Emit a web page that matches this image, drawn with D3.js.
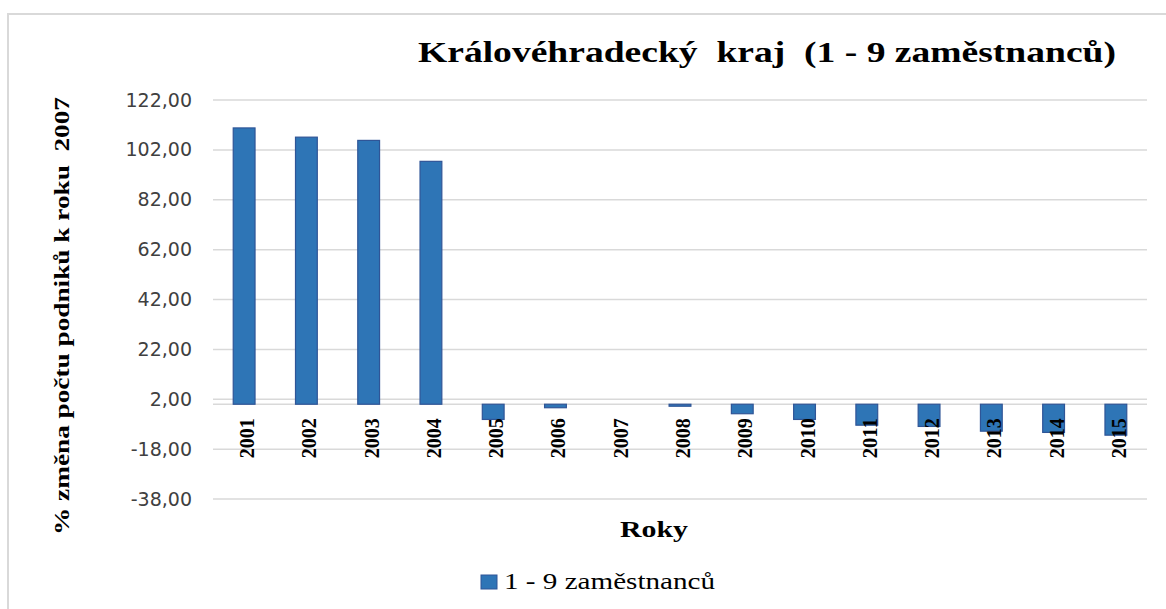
<!DOCTYPE html>
<html>
<head>
<meta charset="utf-8">
<script src="https://cdn.jsdelivr.net/npm/d3@7"></script>
<style>
  html, body { margin: 0; padding: 0; background: #fff; }
  svg { display: block; }
  text { white-space: pre; }
</style>
</head>
<body>
<svg id="chart" width="1166" height="609"></svg>
<script>
const years = ["2001","2002","2003","2004","2005","2006","2007","2008","2009","2010","2011","2012","2013","2014","2015"];
const values = [110.8, 107.1, 105.8, 97.4, -6.1, -1.4, 0, -0.8, -3.8, -6.1, -8.4, -8.9, -10.8, -11.3, -12.4];
const yTicks = [-38, -18, 2, 22, 42, 62, 82, 102, 122];
const titleText = "Královéhradecký  kraj  (1 - 9 zaměstnanců)";
const yTitle = "% změna počtu podniků k roku  2007";
const xTitle = "Roky";
const seriesName = "1 - 9 zaměstnanců";

const svg = d3.select("#chart");
const fill = "#2E75B6", stroke = "#2F5597", grid = "#d9d9d9";

// chart border
svg.append("rect").attr("x", 8).attr("y", 14).attr("width", 1170).attr("height", 620)
  .attr("fill", "none").attr("stroke", grid).attr("stroke-width", 2);

const x = d3.scaleBand().domain(years).range([213, 1147]).paddingInner(0.65).paddingOuter(0.325);
const y = d3.scaleLinear().domain([-38, 122]).range([499, 100]);

// gridlines
svg.append("g").selectAll("line").data(yTicks).join("line")
  .attr("x1", 213).attr("x2", 1147)
  .attr("y1", d => y(d)).attr("y2", d => y(d))
  .attr("stroke", grid).attr("stroke-width", 1.5);

// y tick labels
const yAxis = d3.axisLeft(y).tickValues(yTicks).tickSize(0).tickPadding(0)
  .tickFormat(d => d.toFixed(2).replace(".", ","));
const ya = svg.append("g").attr("transform", "translate(192,0)").call(yAxis);
ya.select(".domain").remove();
ya.selectAll("text").attr("font-family", "DejaVu Sans").attr("font-size", 19).attr("fill", "#404040");

// zero axis line
svg.append("line").attr("x1", 213).attr("x2", 1147).attr("y1", y(0)).attr("y2", y(0))
  .attr("stroke", grid).attr("stroke-width", 1.5);

// bars
svg.append("g").selectAll("rect").data(values.map((v, i) => ({year: years[i], v}))).join("rect")
  .filter(d => d.v !== 0)
  .attr("x", d => x(d.year)).attr("width", x.bandwidth())
  .attr("y", d => y(Math.max(0, d.v)))
  .attr("height", d => Math.abs(y(d.v) - y(0)))
  .attr("fill", fill).attr("stroke", stroke).attr("stroke-width", 1.2);

// x tick labels (rotated)
const xAxis = d3.axisBottom(x).tickSize(0).tickPadding(0);
const xa = svg.append("g").attr("transform", `translate(0,${y(0)})`).call(xAxis);
xa.select(".domain").remove();
xa.selectAll("text")
  .attr("font-family", "Liberation Serif").attr("font-weight", "bold").attr("font-size", 20)
  .attr("fill", "#000")
  .attr("text-anchor", "end")
  .attr("textLength", 40).attr("lengthAdjust", "spacingAndGlyphs")
  .attr("transform", "translate(3,14) rotate(-90)")
  .attr("x", 0).attr("y", 0).attr("dy", "0.35em");

// title
svg.append("text").attr("x", 767).attr("y", 62).attr("text-anchor", "middle")
  .attr("font-family", "Liberation Serif").attr("font-weight", "bold").attr("font-size", 30)
  .attr("textLength", 698).attr("lengthAdjust", "spacingAndGlyphs")
  .text(titleText);

// y title
svg.append("text").attr("transform", "translate(69,316) rotate(-90)").attr("text-anchor", "middle")
  .attr("font-family", "Liberation Serif").attr("font-weight", "bold").attr("font-size", 22)
  .attr("textLength", 438).attr("lengthAdjust", "spacingAndGlyphs")
  .text(yTitle);

// x title
svg.append("text").attr("x", 654).attr("y", 537).attr("text-anchor", "middle")
  .attr("font-family", "Liberation Serif").attr("font-weight", "bold").attr("font-size", 24)
  .attr("textLength", 68).attr("lengthAdjust", "spacingAndGlyphs")
  .text(xTitle);

// legend
const lg = svg.append("g");
lg.append("rect").attr("x", 481).attr("y", 575).attr("width", 16).attr("height", 14)
  .attr("fill", fill).attr("stroke", stroke).attr("stroke-width", 1);
lg.append("text").attr("x", 504).attr("y", 589)
  .attr("font-family", "Liberation Serif").attr("font-size", 23).attr("fill", "#000")
  .attr("textLength", 211).attr("lengthAdjust", "spacingAndGlyphs")
  .text(seriesName);
</script>
</body>
</html>
